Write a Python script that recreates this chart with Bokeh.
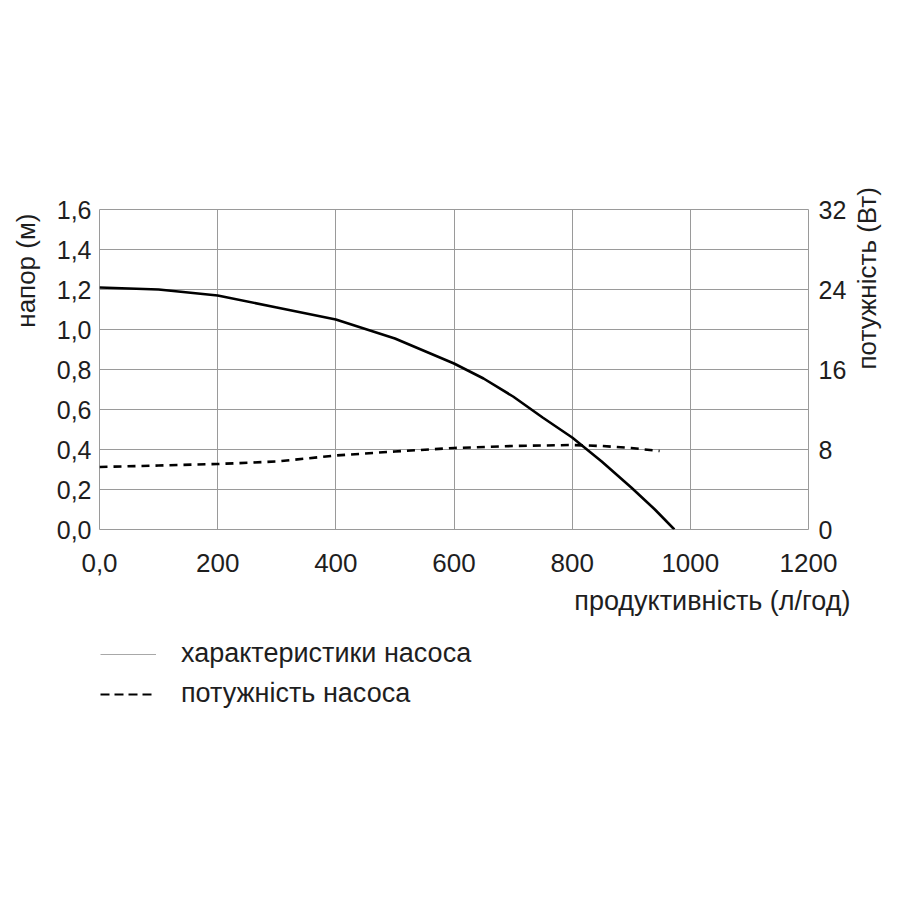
from math import pi
from bokeh.plotting import figure
from bokeh.layouts import column
from bokeh.models import (Range1d, LinearAxis, FixedTicker, Legend, LegendItem,
                          Title)
from bokeh.embed import file_html
from bokeh.resources import INLINE

# ---- data ----
flow_head = [0, 100, 200, 300, 400, 500, 600, 650, 700, 750, 800, 850, 900, 940, 973]
head_m = [1.21, 1.20, 1.17, 1.11, 1.05, 0.955, 0.83, 0.755, 0.665, 0.56, 0.46,
          0.34, 0.21, 0.10, 0.0]

flow_power = [0, 100, 200, 300, 400, 500, 600, 700, 800, 850, 900, 948]
power_w = [6.25, 6.4, 6.55, 6.8, 7.4, 7.8, 8.15, 8.35, 8.45, 8.35, 8.15, 7.85]

x_ticks = [0, 200, 400, 600, 800, 1000, 1200]
x_tick_labels = ["0,0", "200", "400", "600", "800", "1000", "1200"]
y_ticks = [0, 0.2, 0.4, 0.6, 0.8, 1, 1.2, 1.4, 1.6]
y_tick_labels = ["0,0", "0,2", "0,4", "0,6", "0,8", "1,0", "1,2", "1,4", "1,6"]
p_ticks = [0, 8, 16, 24, 32]
p_tick_labels = ["0", "8", "16", "24", "32"]

x_title = "продуктивність (л/год)"
y_title = "напор (м)"
p_title = "потужність (Вт)"
legend_labels = ["характеристики насоса", "потужність насоса"]

SANS = "Liberation Sans"
TXT = "#1e1e1e"
GRID = "#9a9a9a"

# ---------------- main chart ----------------
p = figure(width=900, height=635, output_backend="svg", toolbar_location=None,
           x_range=Range1d(0, 1200), y_range=Range1d(0, 1.6),
           min_border_left=96, min_border_right=92, min_border_top=209,
           min_border_bottom=106, background_fill_color="white",
           border_fill_color="white")
p.extra_y_ranges = {"power": Range1d(0, 32)}

p.outline_line_color = GRID
p.outline_line_width = 1

p.xgrid.ticker = FixedTicker(ticks=x_ticks)
p.ygrid.ticker = FixedTicker(ticks=y_ticks)
for g in (p.xgrid, p.ygrid):
    g.grid_line_color = GRID
    g.grid_line_width = 1


def style_axis(ax, size, standoff):
    ax.axis_line_color = None
    ax.major_tick_line_color = None
    ax.minor_tick_line_color = None
    ax.major_tick_out = 0
    ax.major_label_standoff = standoff
    ax.major_label_text_font = SANS
    ax.major_label_text_font_size = size
    ax.major_label_text_color = TXT
    ax.axis_label_text_font = SANS
    ax.axis_label_text_font_style = "normal"
    ax.axis_label_text_font_size = "26px"
    ax.axis_label_text_color = TXT


xa = p.xaxis[0]
xa.ticker = FixedTicker(ticks=x_ticks)
xa.major_label_overrides = {t: l for t, l in zip(x_ticks, x_tick_labels)}
style_axis(xa, "26px", 24)

ya = p.yaxis[0]
ya.ticker = FixedTicker(ticks=y_ticks)
ya.major_label_overrides = {t: l for t, l in zip(y_ticks, y_tick_labels)}
style_axis(ya, "25px", 8)

ra = LinearAxis(y_range_name="power", ticker=FixedTicker(ticks=p_ticks))
ra.major_label_overrides = {t: l for t, l in zip(p_ticks, p_tick_labels)}
style_axis(ra, "25px", 10)
ra.axis_label = p_title
ra.axis_label_standoff = 18
ra.axis_label_orientation = pi / 2
p.add_layout(ra, "right")

# left title, top aligned like the reference
p.add_layout(Title(text=y_title, align="right", offset=4,
                   vertical_align="top", standoff=21,
                   text_font=SANS, text_font_style="normal",
                   text_font_size="26px", text_color=TXT), "left")

# x title below the tick labels, right aligned past the frame edge
p.add_layout(Title(text=x_title, align="right", offset=-42,
                   vertical_align="bottom", standoff=18,
                   text_font=SANS, text_font_style="normal",
                   text_font_size="27px", text_color=TXT), "below")

p.line(flow_head, head_m, line_color="black", line_width=2.6)
p.line(flow_power, power_w, y_range_name="power", line_color="black",
       line_width=2.6, line_dash="8 6")

# ---------------- lower strip: legend ----------------
p2 = figure(width=900, height=265, output_backend="svg", toolbar_location=None,
            x_range=Range1d(0, 1), y_range=Range1d(0, 1),
            x_axis_type=None, y_axis_type=None, min_border=0,
            background_fill_color="white", border_fill_color="white")
p2.outline_line_color = None
p2.grid.visible = False

nan = float("nan")
r1 = p2.line([nan], [nan], line_color="#a8a8a8", line_width=1.2)
r2 = p2.line([nan], [nan], line_color="black", line_width=2.2, line_dash="9 5")
legend = Legend(items=[LegendItem(label=legend_labels[0], renderers=[r1]),
                       LegendItem(label=legend_labels[1], renderers=[r2])],
                location=(1, 191), orientation="vertical",
                glyph_width=56, glyph_height=20, label_standoff=25,
                spacing=9, padding=0, margin=0,
                border_line_color=None, background_fill_alpha=0,
                label_text_font=SANS, label_text_font_size="27px",
                label_text_color=TXT)
p2.add_layout(legend, "center")

layout = column(p, p2, spacing=0)
open("out.html", "w").write(file_html(layout, INLINE))
